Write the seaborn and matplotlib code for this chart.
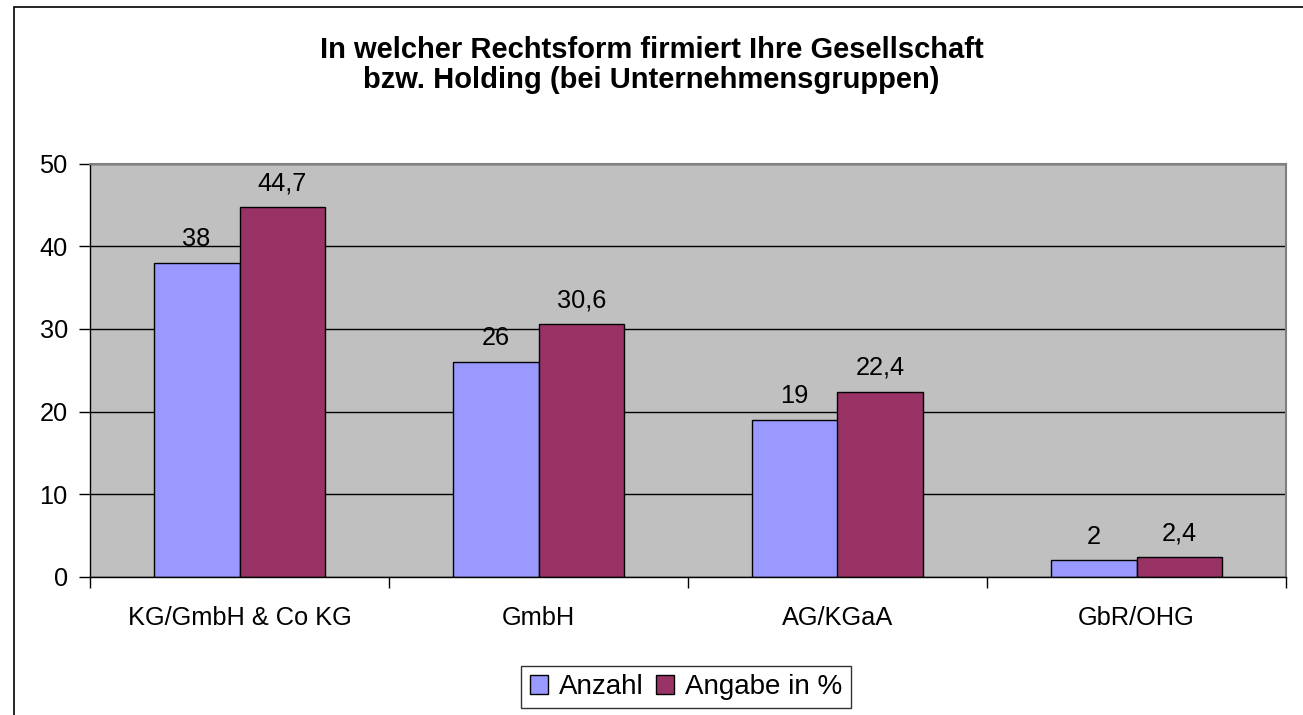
import matplotlib
matplotlib.use('Agg')
import matplotlib.pyplot as plt
from matplotlib.patches import Rectangle
import seaborn as sns
import pandas as pd

# ============================================
# Daten
# ============================================
rechtsformen = ['KG/GmbH & Co KG', 'GmbH', 'AG/KGaA', 'GbR/OHG']
anzahl = [38, 26, 19, 2]
angabe_prozent = [44.7, 30.6, 22.4, 2.4]
reihen = ['Anzahl', 'Angabe in %']
farben = ['#9999FF', '#993366']

df = pd.DataFrame({
    'Rechtsform': rechtsformen * 2,
    'Wert': anzahl + angabe_prozent,
    'Reihe': [reihen[0]] * len(anzahl) + [reihen[1]] * len(angabe_prozent),
})

sns.set_style('white')
plt.rcParams['font.family'] = ['Liberation Sans', 'DejaVu Sans']
plt.rcParams['text.color'] = 'black'
plt.rcParams['xtick.color'] = 'black'
plt.rcParams['ytick.color'] = 'black'

fs = 18.3

fig = plt.figure(figsize=(13.03, 7.15), dpi=100)
ax = fig.add_axes([90 / 1303, 138 / 715, 1196 / 1303, 413.5 / 715])
ax.set_facecolor('#C0C0C0')

sns.barplot(data=df, x='Rechtsform', y='Wert', hue='Reihe', palette=farben,
            width=0.575, saturation=1, edgecolor='black', linewidth=1,
            ax=ax)

# Datenbeschriftung mit Dezimalkomma
for cont in ax.containers:
    werte = [b.get_height() for b in cont]
    texte = [f'{v:g}'.replace('.', ',') for v in werte]
    ax.bar_label(cont, labels=texte, padding=8.5, fontsize=fs, color='black')

ax.set_ylim(0, 50)
ax.set_xlim(-0.5, 3.5)
ax.set_yticks([0, 10, 20, 30, 40, 50])
ax.yaxis.grid(True, color='black', linewidth=1)
ax.set_axisbelow(True)
ax.set_xlabel('')
ax.set_ylabel('')

ax.tick_params(axis='y', which='major', length=8, width=1, color='black',
               labelsize=fs, pad=8, left=True)
ax.tick_params(axis='x', which='major', length=0, labelsize=fs, pad=21)
ax.set_xticks([-0.5, 0.5, 1.5, 2.5, 3.5], minor=True)
ax.tick_params(axis='x', which='minor', length=8, width=1, color='black',
               bottom=True)

for s in ['top', 'right']:
    ax.spines[s].set_color('#808080')
    ax.spines[s].set_linewidth(1.5)
for s in ['left', 'bottom']:
    ax.spines[s].set_color('black')
    ax.spines[s].set_linewidth(1)

ax.get_legend().remove()

fig.text(0.5, 1 - 65 / 715,
         'In welcher Rechtsform firmiert Ihre Gesellschaft\nbzw. Holding (bei Unternehmensgruppen)',
         ha='center', va='center', fontsize=21, fontweight='bold',
         linespacing=1.05)

handles = [Rectangle((0, 0), 1, 1, facecolor=c, edgecolor='black', linewidth=1)
           for c in farben]
fig.legend(handles, reihen, loc='center', bbox_to_anchor=(686 / 1303, 28 / 715),
           ncol=2, fontsize=20, frameon=True, fancybox=False,
           edgecolor='black', handlelength=0.65, handleheight=0.65,
           handletextpad=0.4, columnspacing=0.45, borderpad=0.3,
           borderaxespad=0)
fig.legends[0].get_frame().set_linewidth(1)

# äußerer Rahmen
fig.patches.append(Rectangle((14 / 1303, -0.1), 1.2, 1.1 - 7 / 715,
                             transform=fig.transFigure, fill=False,
                             edgecolor='black', linewidth=1.2))

fig.savefig('out.png', dpi=100, facecolor='white')
plt.close()
